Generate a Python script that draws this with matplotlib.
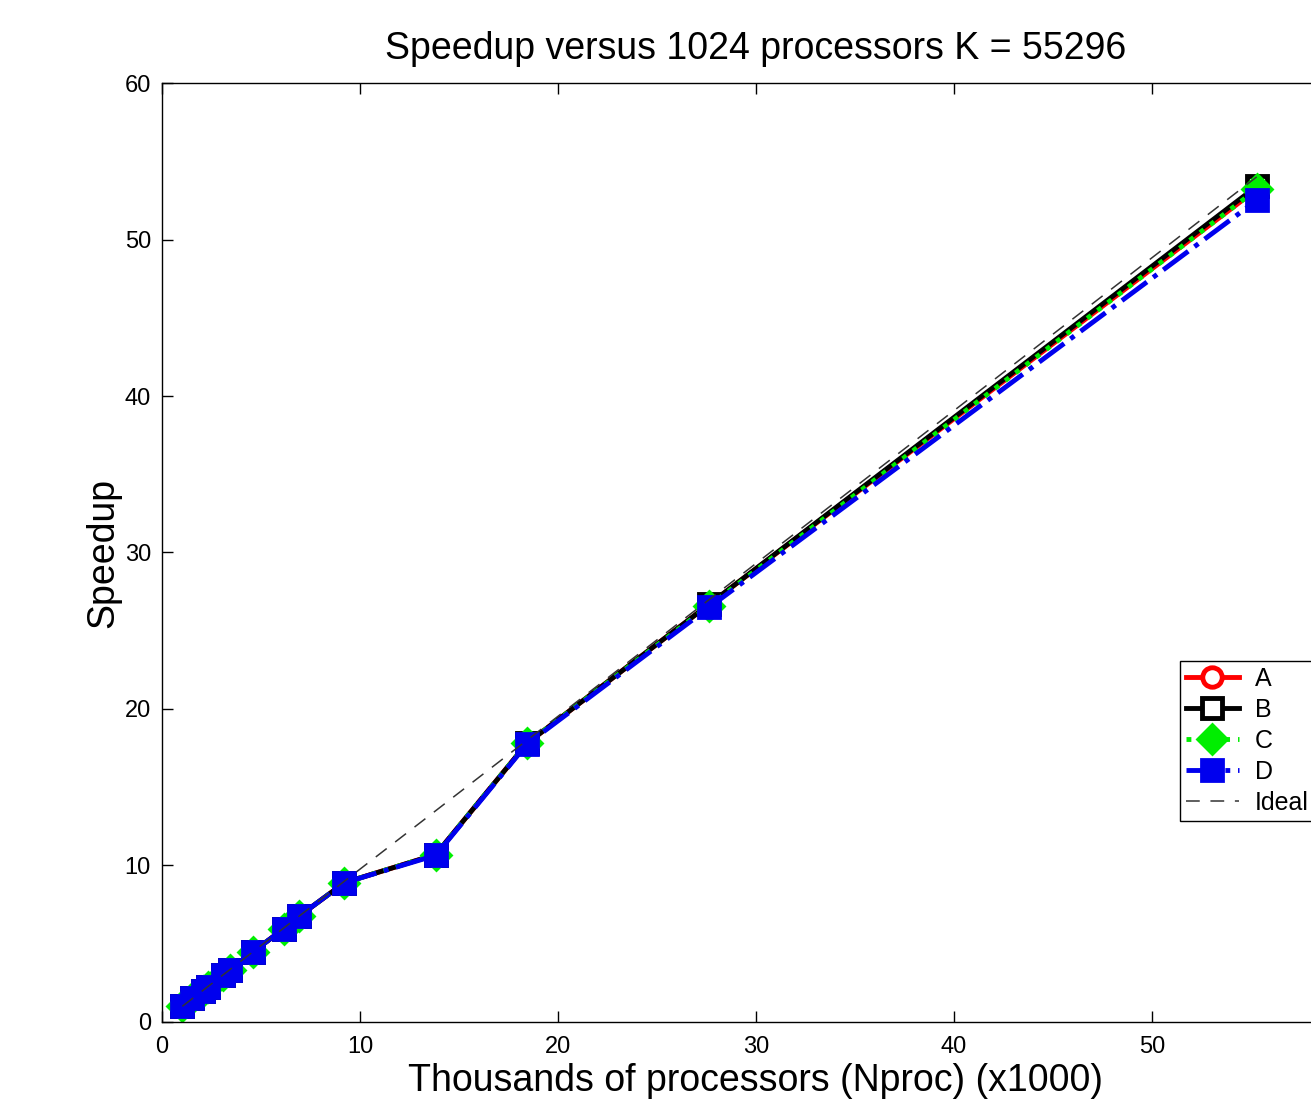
import numpy as np
import matplotlib.pyplot as plt

plt.rcParams['font.family'] = 'sans-serif'
plt.rcParams['font.sans-serif'] = ['Liberation Sans', 'DejaVu Sans']

# processors in thousands
nproc = [1.024, 1.536, 2.048, 2.304, 3.072, 3.456, 4.608, 6.144, 6.912,
         9.216, 13.824, 18.432, 27.648, 55.296]

speed_a = [1.0, 1.5, 2.0, 2.25, 3.0, 3.35, 4.5, 5.95, 6.75, 8.9, 10.7, 17.8, 26.7, 53.2]
speed_b = [1.0, 1.5, 2.0, 2.25, 3.0, 3.35, 4.5, 5.95, 6.75, 8.9, 10.7, 17.8, 26.7, 53.4]
speed_c = [1.0, 1.5, 2.0, 2.25, 3.0, 3.35, 4.5, 5.95, 6.75, 8.9, 10.7, 17.8, 26.6, 53.2]
speed_d = [1.0, 1.5, 2.0, 2.25, 3.0, 3.35, 4.5, 5.95, 6.75, 8.9, 10.65, 17.75, 26.5, 52.5]

ideal = [x / 1.024 for x in nproc]

fig = plt.figure(figsize=(13.11, 11.04), dpi=100)
ax = fig.add_axes([0.1236, 0.0743, 0.906, 0.8505])

ax.plot(nproc, speed_a, 'r-', lw=3.5, marker='o', ms=14, mfc='white',
        mec='r', mew=3.5, label='A')
ax.plot(nproc, speed_b, 'k-', lw=3.5, marker='s', ms=14, mfc='white',
        mec='k', mew=3.5, label='B')
ax.plot(nproc, speed_c, color='#00ee00', ls=':', lw=3.5, marker='D', ms=15,
        mfc='#00ee00', mec='#00ee00', mew=2, label='C')
ax.plot(nproc, speed_d, color='#0000ee', ls='-.', lw=3.5, marker='s', ms=16,
        mfc='#0000ee', mec='#0000ee', mew=2, label='D')
ax.plot(nproc, ideal, color='#333333', ls='--', lw=1.1, dashes=(9, 7), label='Ideal')

ax.set_xlim(0, 60)
ax.set_ylim(0, 60)
ax.set_xticks(np.arange(0, 61, 10))
ax.set_xticklabels(['0', '10', '20', '30', '40', '50', ''])
ax.set_yticks(np.arange(0, 61, 10))
ax.tick_params(direction='in', length=8, width=1, top=True, right=True,
               labelsize=17)
ax.tick_params(axis='x', pad=10)
ax.tick_params(axis='y', pad=8)
for s in ax.spines.values():
    s.set_linewidth(1)

ax.set_title('Speedup versus 1024 processors K = 55296', fontsize=27, pad=17)
ax.set_xlabel('Thousands of processors (Nproc) (x1000)', fontsize=27, labelpad=4)
ax.set_ylabel('Speedup', fontsize=27, labelpad=2)

leg = ax.legend(loc='upper left', bbox_to_anchor=(0.857, 0.3845),
                borderaxespad=0, fontsize=18, fancybox=False, framealpha=1,
                edgecolor='k', handlelength=2.1, handletextpad=0.65,
                labelspacing=0.28, borderpad=0.25)
leg.get_frame().set_linewidth(1)

plt.savefig('out.png', dpi=100)
